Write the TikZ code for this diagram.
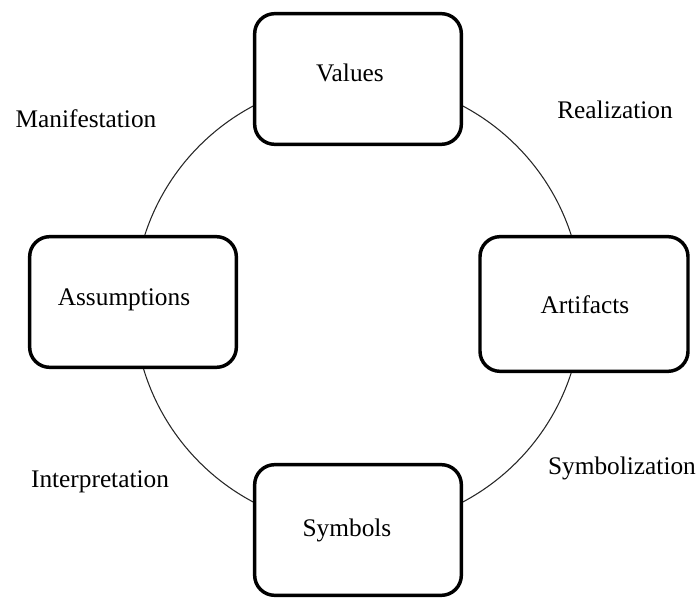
\documentclass[tikz,border=0pt]{standalone}
\usepackage{fontspec}
\setmainfont{Liberation Serif}
\usetikzlibrary{positioning}

\begin{document}
\begin{tikzpicture}
[
                   x =  0.75pt,
                   y = -0.75pt,
                font = \fontsize{19}{23}\selectfont,
         box/.style = { draw=black, fill=white, line width=2.6pt, rounded corners=15pt,
                        minimum width=155pt, minimum height=98pt, inner sep=0pt },
        ring/.style = { draw=black!85, line width=0.8pt },
       label/.style = { draw=none, fill=none, inner sep=0pt }
]
	\useasboundingbox (0,0) rectangle (697,599);

	\coordinate (mid) at (358,304);
	\draw[ring] (mid) circle [radius=168pt];

	\node (values) at (358, 79) [box] {};	\node (valuesl) at (350, 73) [label] {Values};
	\node (assum)  at (133,302) [box] {};	\node (assuml)  at (124,300) [label] {Assumptions};
	\node (artif)  at (584,304) [box, minimum width=156pt, minimum height=101pt] {};
	                                     	\node (artifl)  at (585,305) [label] {Artifacts};
	\node (symbs)  at (358,530) [box] {};	\node (symbsl)  at (347,530) [label] {Symbols};

	\node (manif)  at ( 86,119) [label] {Manifestation};
	\node (realz)  at (615,110) [label] {Realization};
	\node (interp) at (100,482) [label] {Interpretation};
	\node (symbz)  at (622,468) [label] {Symbolization};

\end{tikzpicture}
\end{document}
